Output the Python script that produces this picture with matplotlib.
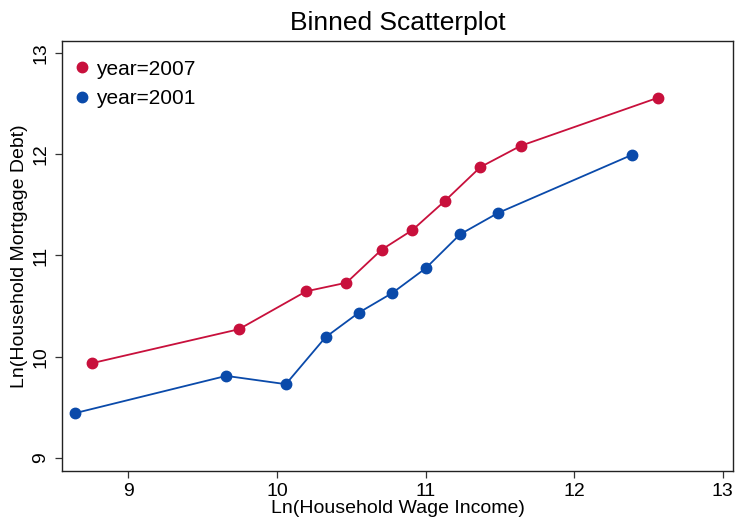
import matplotlib
matplotlib.use("Agg")
import matplotlib.pyplot as plt

plt.rcParams["font.family"] = ["Liberation Sans", "DejaVu Sans"]

# binned means, ln income vs ln mortgage debt
x_2007 = [8.754, 9.744, 10.197, 10.468, 10.704, 10.912, 11.129, 11.369, 11.640, 12.563]
y_2007 = [9.935, 10.271, 10.646, 10.731, 11.057, 11.252, 11.538, 11.874, 12.084, 12.559]

x_2001 = [8.640, 9.659, 10.060, 10.327, 10.551, 10.777, 11.001, 11.232, 11.487, 12.386]
y_2001 = [9.441, 9.810, 9.728, 10.192, 10.435, 10.630, 10.874, 11.209, 11.420, 11.993]

xticks = [9, 10, 11, 12, 13]
yticks = [9, 10, 11, 12, 13]

red = "#c8103c"
blue = "#0a4aaa"

fig = plt.figure(figsize=(7.36, 5.21), dpi=100)
ax = fig.add_axes([0.0842, 0.096, 0.9121, 0.8253])

ax.plot(x_2007, y_2007, color=red, lw=1.3, marker="o", ms=7.5, label="year=2007")
ax.plot(x_2001, y_2001, color=blue, lw=1.3, marker="o", ms=7.5, label="year=2001")

ax.set_xlim(8.554, 13.07)
ax.set_ylim(8.87, 13.12)
ax.set_xticks(xticks)
ax.set_yticks(yticks)
ax.tick_params(axis="both", direction="out", length=5, width=0.9, colors="#333333",
               labelcolor="black", labelsize=14, pad=4)
for lbl in ax.get_yticklabels():
    lbl.set_rotation(90)
    lbl.set_va("center")
for s in ax.spines.values():
    s.set_color("#222222")
    s.set_linewidth(1.0)

ax.set_xlabel("Ln(Household Wage Income)", fontsize=14, labelpad=0)
ax.set_ylabel("Ln(Household Mortgage Debt)", fontsize=14, labelpad=3)
ax.set_title("Binned Scatterplot", fontsize=19, pad=8)

leg = ax.legend(loc="upper left", bbox_to_anchor=(-0.008, 1.0), frameon=False,
                fontsize=15, handlelength=0.6, handletextpad=0.4,
                borderaxespad=0.5, labelspacing=0.5)
for h in leg.legend_handles:
    h.set_linestyle("none")

fig.savefig("out.png", dpi=100)
